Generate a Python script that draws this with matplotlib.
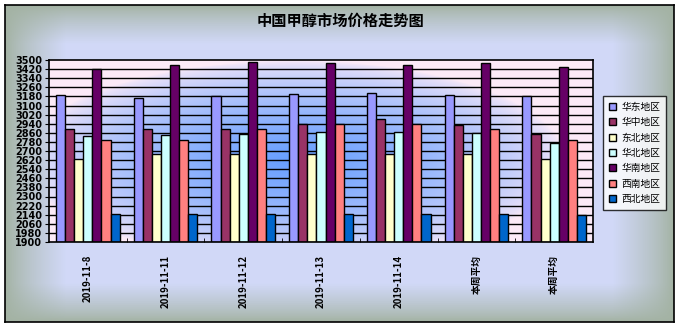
import numpy as np
import matplotlib
matplotlib.use('Agg')
import matplotlib.pyplot as plt

plt.rcParams['font.family'] = ['Noto Sans CJK SC', 'DejaVu Sans']

# data
categories = ['2019-11-8', '2019-11-11', '2019-11-12', '2019-11-13', '2019-11-14', '本周平均', '本周平均']
regions = ['华东地区', '华中地区', '东北地区', '华北地区', '华南地区', '西南地区', '西北地区']
east = [3190, 3170, 3180, 3200, 3210, 3190, 3180]
central = [2890, 2890, 2890, 2940, 2980, 2930, 2850]
northeast = [2630, 2670, 2670, 2670, 2670, 2670, 2630]
north = [2830, 2840, 2850, 2870, 2870, 2860, 2770]
south = [3420, 3460, 3480, 3470, 3460, 3470, 3440]
southwest = [2800, 2800, 2890, 2940, 2940, 2890, 2800]
northwest = [2150, 2150, 2150, 2150, 2150, 2150, 2140]
series = [east, central, northeast, north, south, southwest, northwest]
colors = ['#9999FF', '#993366', '#FFFFCC', '#CCFFFF', '#660066', '#FF8080', '#0066CC']
yticks = list(range(1900, 3501, 80))

W, H = 681, 328
fig = plt.figure(figsize=(W / 100, H / 100), dpi=100)
fig.patch.set_facecolor('white')

# outer chart area: lavender centre fading to grey-green edges
bg = fig.add_axes([5 / W, 1 - 322 / H, 669 / W, 317 / H])
gx, gy = np.meshgrid(np.linspace(0, 1, 300), np.linspace(0, 1, 150))
fx = np.clip(np.minimum(gx, 1 - gx) / 0.09, 0, 1)
fy = np.clip(np.minimum(gy, 1 - gy) / 0.12, 0, 1)
t = (fx * fy)[..., None] ** 0.8
edge = np.array([0.64, 0.70, 0.64])
centre = np.array([0.82, 0.85, 0.97])
bg.imshow(edge + (centre - edge) * t, aspect='auto', extent=(0, 1, 0, 1))
bg.set_xticks([])
bg.set_yticks([])
for s in bg.spines.values():
    s.set_color('black')
    s.set_linewidth(1.2)

fig.text(340 / W, 1 - 21 / H, '中国甲醇市场价格走势图', ha='center', va='center',
         fontsize=11, fontweight='bold')

ax = fig.add_axes([49 / W, 1 - 242 / H, 544 / W, 182 / H])
ax.set_xlim(-0.5, len(categories) - 0.5)
ax.set_ylim(1900, 3500)

# plot area: blue glow in the middle, pale pink towards the edges
px, py = np.meshgrid(np.linspace(0, 1, 300), np.linspace(0, 1, 150))
r = np.sqrt(((px - 0.45) / 0.5) ** 2 + ((py - 0.45) / 0.55) ** 2)
tt = np.clip(1 - r, 0, 1)[..., None] ** 0.6
pink = np.array([0.99, 0.92, 0.97])
blue = np.array([0.40, 0.62, 1.0])
ax.imshow(pink + (blue - pink) * tt, aspect='auto', origin='lower',
          extent=(-0.5, len(categories) - 0.5, 1900, 3500), zorder=0)

for y in yticks[1:-1]:
    ax.axhline(y, color='black', lw=1, zorder=1)

x = np.arange(len(categories))
bw = 0.117
for j, (vals, name, c) in enumerate(zip(series, regions, colors)):
    ax.bar(x + (j - 3) * bw, np.array(vals) - 1900, bottom=1900, width=bw,
           color=c, edgecolor='black', linewidth=1, label=name, zorder=2)

ax.set_yticks(yticks)
ax.set_yticklabels([str(v) for v in yticks], fontsize=7, fontweight='bold',
                   family=['DejaVu Sans'])
ax.tick_params(axis='y', length=3, pad=2)
ax.set_xticks(x)
ax.set_xticklabels(categories, rotation=90, fontsize=7, fontweight='bold')
ax.tick_params(axis='x', length=0, pad=9)
ax.set_xticks(np.arange(0.5, len(categories) - 1, 1), minor=True)
ax.tick_params(axis='x', which='minor', length=3, direction='in')
for s in ax.spines.values():
    s.set_color('black')
    s.set_linewidth(1.2)

leg = ax.legend(loc='upper left', bbox_to_anchor=(603 / W, 1 - 96 / H),
                bbox_transform=fig.transFigure, fontsize=7, frameon=True,
                fancybox=False, borderaxespad=0, handlelength=0.7,
                handleheight=0.7, handletextpad=0.6, labelspacing=0.55,
                borderpad=0.6)
leg.get_frame().set_edgecolor('black')
leg.get_frame().set_linewidth(1)

fig.savefig('out.png', dpi=100)
